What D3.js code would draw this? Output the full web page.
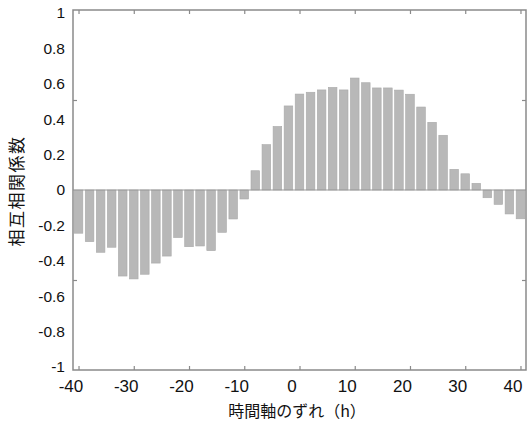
<!DOCTYPE html>
<html>
<head>
<meta charset="utf-8">
<script src="https://cdn.jsdelivr.net/npm/d3@7"></script>
<style>
  html, body { margin: 0; padding: 0; background: #fff; }
  svg { display: block; }
  text { font-family: Arial, "Liberation Sans", sans-serif; fill: #111; }
  .cjk { font-family: "Noto Sans CJK JP", sans-serif; }
</style>
</head>
<body>
<svg id="chart" width="528" height="423"></svg>
<script>
// Lags (h)
const lags = [-40,-38,-36,-34,-32,-30,-28,-26,-24,-22,-20,-18,-16,-14,-12,-10,-8,-6,-4,-2,
              0,2,4,6,8,10,12,14,16,18,20,22,24,26,28,30,32,34,36,38,40];
// Cross-correlation coefficients
const values = [-0.240,-0.287,-0.346,-0.318,-0.478,-0.494,-0.468,-0.406,-0.367,-0.264,
                -0.315,-0.311,-0.337,-0.235,-0.161,-0.050,0.107,0.252,0.353,0.467,
                0.533,0.543,0.556,0.570,0.556,0.622,0.596,0.567,0.567,0.555,
                0.532,0.461,0.376,0.304,0.115,0.090,0.037,-0.043,-0.080,-0.133,-0.160];
const xTicks = [-40,-30,-20,-10,0,10,20,30,40];
const yTickLabels = [1,0.8,0.6,0.4,0.2,0,-0.2,-0.4,-0.6,-0.8,-1];
const yTickMarks = [0.5,-0.5];
const xTitle = "時間軸のずれ（h）";
const yTitle = "相互相関係数";

const svg = d3.select("#chart");
const L = 73, R = 526, T = 10, B = 370;
const x = d3.scaleLinear().domain([-41, 41]).range([L, R]);
const y = d3.scaleLinear().domain([-1, 1]).range([B, T]);
const yLab = d3.scaleLinear().domain([-1, 1]).range([367, 13]);
const xLab = d3.scaleLinear().domain([-40, 40]).range([71, 513]);
const barW = 8.6;
const axisColor = "#8a8a8a";

// bars
svg.append("g").selectAll("rect").data(lags).join("rect")
  .attr("x", (d) => x(d) - barW / 2)
  .attr("width", barW)
  .attr("y", (d, i) => Math.min(y(values[i]), y(0)))
  .attr("height", (d, i) => Math.abs(y(values[i]) - y(0)))
  .attr("fill", "#b8b8b8")
  .attr("stroke", "#a9a9a9")
  .attr("stroke-width", 0.6);

// zero line
svg.append("line")
  .attr("x1", L).attr("x2", R).attr("y1", y(0)).attr("y2", y(0))
  .attr("stroke", "#9a9a9a").attr("stroke-width", 1.2);

// frame
svg.append("rect")
  .attr("x", L).attr("y", T).attr("width", R - L).attr("height", B - T)
  .attr("fill", "none").attr("stroke", axisColor).attr("stroke-width", 1.5);

// inward ticks via axes
const tickLen = 4;
const styleTicks = g => { g.select(".domain").remove(); g.selectAll("line").attr("stroke", axisColor).attr("stroke-width", 1.2); };
svg.append("g").attr("transform", `translate(0,${B})`)
  .call(d3.axisTop(x).tickValues(xTicks).tickSize(tickLen).tickFormat("")).call(styleTicks);
svg.append("g").attr("transform", `translate(0,${T})`)
  .call(d3.axisBottom(x).tickValues(xTicks).tickSize(tickLen).tickFormat("")).call(styleTicks);
svg.append("g").attr("transform", `translate(${L},0)`)
  .call(d3.axisRight(y).tickValues(yTickMarks).tickSize(tickLen).tickFormat("")).call(styleTicks);
svg.append("g").attr("transform", `translate(${R},0)`)
  .call(d3.axisLeft(y).tickValues(yTickMarks).tickSize(tickLen).tickFormat("")).call(styleTicks);

// y tick labels
svg.append("g").selectAll("text").data(yTickLabels).join("text")
  .attr("x", 65)
  .attr("y", d => yLab(d))
  .attr("dy", "0.35em")
  .attr("text-anchor", "end")
  .attr("font-size", 15.5)
  .text(d => String(d));

// x tick labels
svg.append("g").selectAll("text").data(xTicks).join("text")
  .attr("x", d => xLab(d))
  .attr("y", 392)
  .attr("text-anchor", "middle")
  .attr("font-size", 17)
  .text(d => String(d));

// titles
svg.append("text").attr("class", "cjk")
  .attr("x", 297).attr("y", 417)
  .attr("text-anchor", "middle")
  .attr("font-size", 16)
  .text(xTitle);

svg.append("text").attr("class", "cjk")
  .attr("transform", "translate(23,191) rotate(-90)")
  .attr("text-anchor", "middle")
  .attr("font-size", 17)
  .attr("letter-spacing", 1.5)
  .text(yTitle);
</script>
</body>
</html>
